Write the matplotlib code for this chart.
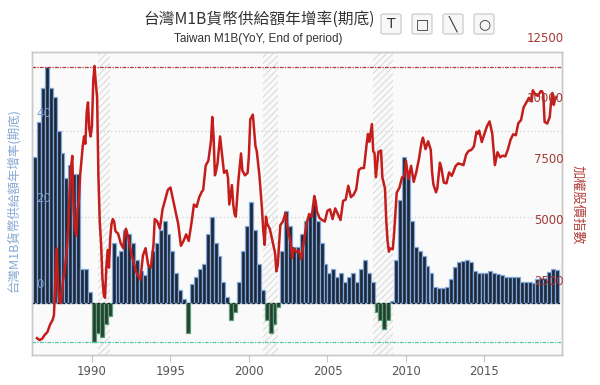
import numpy as np
import pandas as pd
import matplotlib
matplotlib.use("Agg")
import matplotlib.pyplot as plt
from matplotlib.patches import FancyBboxPatch
import matplotlib.transforms as mtransforms

plt.rcParams['font.family'] = ['Noto Sans CJK TC', 'DejaVu Sans']
plt.rcParams['hatch.linewidth'] = 0.8

# M1B YoY (%), quarterly, starting 1986Q2
m1b_yoy = [
    34, 42, 50,                 # 1986
    55, 50, 48, 40,             # 1987
    35, 29, 32, 30,             # 1988
    30, 8, 8, 2.5,              # 1989
    -9, -7, -8, -5,             # 1990
    -3, 14, 11, 12,             # 1991
    17, 16, 14, 10,             # 1992
    7.5, 6.5, 8.5, 12,          # 1993
    14, 17, 19, 16,             # 1994
    12, 7, 3, 1,                # 1995
    -7, 4.5, 6, 8,              # 1996
    9, 16, 20, 14,              # 1997
    11, 5, 1.5, -4,             # 1998
    -2, 5, 12, 18,              # 1999
    23.5, 17, 9, 3,             # 2000
    -4, -7, -5, -1,             # 2001
    12, 21.5, 18, 13,           # 2002
    13, 16, 19, 21,             # 2003
    23, 19, 14, 9,              # 2004
    7, 8, 6, 7,                 # 2005
    5, 6, 7, 5,                 # 2006
    8, 10, 7, 5,                # 2007
    -2, -4, -6, -4,             # 2008
    0.5, 10, 24, 34,            # 2009
    30, 19, 13, 12,             # 2010
    11, 8.5, 7, 3.7,            # 2011
    3.6, 3.6, 3.7, 5.5,         # 2012
    8.4, 9.5, 9.7, 10,          # 2013
    9.5, 7.5, 7, 7,             # 2014
    7, 7.5, 7, 6.8,             # 2015
    6.5, 6, 6, 6,               # 2016
    6, 5, 5, 5,                 # 2017
    4.7, 5.5, 5.8, 5.8,         # 2018
    7.3, 7.8, 7.6,              # 2019
]
m1b_dates = pd.period_range('1986Q2', periods=len(m1b_yoy), freq='Q')

# TAIEX month-end close
taiex_months = [
    '1986-06', '1986-08', '1986-10', '1986-12',
    '1987-02', '1987-04', '1987-06', '1987-07', '1987-08', '1987-09', '1987-10', '1987-11', '1987-12',
    '1988-01', '1988-02', '1988-03', '1988-04', '1988-05', '1988-06', '1988-07', '1988-08', '1988-09',
    '1988-10', '1988-11', '1988-12',
    '1989-01', '1989-02', '1989-03', '1989-04', '1989-05', '1989-06', '1989-07', '1989-08', '1989-09',
    '1989-10', '1989-11', '1989-12',
    '1990-01', '1990-02', '1990-03', '1990-04', '1990-05', '1990-06', '1990-07', '1990-08', '1990-09',
    '1990-10', '1990-11', '1990-12',
    '1991-01', '1991-02', '1991-03', '1991-04', '1991-05', '1991-06', '1991-08', '1991-10', '1991-12',
    '1992-01', '1992-02', '1992-04', '1992-06', '1992-08', '1992-10', '1992-12',
    '1993-01', '1993-03', '1993-05', '1993-07', '1993-09', '1993-11', '1993-12',
    '1994-02', '1994-04', '1994-06', '1994-08', '1994-10', '1994-12',
    '1995-02', '1995-04', '1995-06', '1995-08', '1995-10', '1995-12',
    '1996-02', '1996-04', '1996-06', '1996-08', '1996-10', '1996-12',
    '1997-01', '1997-03', '1997-05', '1997-07', '1997-08', '1997-09', '1997-10', '1997-11', '1997-12',
    '1998-02', '1998-03', '1998-05', '1998-07', '1998-08', '1998-09', '1998-11', '1998-12',
    '1999-01', '1999-02', '1999-04', '1999-06', '1999-07', '1999-09', '1999-11', '1999-12',
    '2000-01', '2000-03', '2000-05', '2000-06', '2000-08', '2000-10', '2000-11', '2000-12',
    '2001-01', '2001-02', '2001-04', '2001-06', '2001-08', '2001-09', '2001-10', '2001-12',
    '2002-02', '2002-04', '2002-06', '2002-08', '2002-09', '2002-10', '2002-12',
    '2003-02', '2003-04', '2003-06', '2003-08', '2003-10', '2003-12',
    '2004-02', '2004-03', '2004-04', '2004-06', '2004-08', '2004-10', '2004-12',
    '2005-02', '2005-04', '2005-06', '2005-08', '2005-10', '2005-12',
    '2006-02', '2006-04', '2006-06', '2006-08', '2006-10', '2006-12',
    '2007-02', '2007-04', '2007-06', '2007-07', '2007-08', '2007-10', '2007-11', '2007-12',
    '2008-01', '2008-03', '2008-05', '2008-06', '2008-08', '2008-09', '2008-10', '2008-11', '2008-12',
    '2009-02', '2009-03', '2009-05', '2009-07', '2009-09', '2009-11', '2009-12',
    '2010-02', '2010-04', '2010-06', '2010-08', '2010-10', '2010-12',
    '2011-01', '2011-03', '2011-05', '2011-07', '2011-08', '2011-09', '2011-11', '2011-12',
    '2012-02', '2012-03', '2012-05', '2012-07', '2012-09', '2012-11', '2012-12',
    '2013-02', '2013-04', '2013-06', '2013-08', '2013-10', '2013-12',
    '2014-02', '2014-04', '2014-06', '2014-07', '2014-08', '2014-10', '2014-12',
    '2015-02', '2015-04', '2015-06', '2015-08', '2015-10', '2015-12',
    '2016-02', '2016-04', '2016-06', '2016-08', '2016-10', '2016-12',
    '2017-02', '2017-04', '2017-06', '2017-08', '2017-10', '2017-12',
    '2018-01', '2018-03', '2018-05', '2018-07', '2018-08', '2018-09', '2018-10', '2018-12',
    '2019-02', '2019-03', '2019-04', '2019-05', '2019-06', '2019-07',
]
taiex_close = [
    900, 820, 880, 1040,
    1150, 1450, 1650, 1850, 3300, 4600, 3100, 2400, 2340,
    2800, 3300, 3600, 4100, 4700, 5500, 7000, 7900, 8400,
    6200, 5400, 5120,
    6200, 6500, 7600, 8200, 8800, 9200, 8900, 10200, 10600,
    9500, 9200, 9624,
    11500, 12100, 11400, 10800, 7500, 5700, 4800, 3400, 2700,
    2560, 3800, 4530,
    3800, 5000, 5600, 5800, 5700, 5300, 5200, 4800, 4600,
    5200, 5400, 5000, 4400, 4000, 3600, 3400,
    3300, 4300, 4600, 3900, 3800, 4700, 5800,
    5700, 5400, 6200, 6600, 7000, 7100,
    6600, 6100, 5600, 4700, 4900, 5170,
    4900, 5600, 6400, 6300, 6700, 6930,
    7000, 8000, 8200, 9000, 10000, 9200, 7600, 7800, 8100,
    9200, 8700, 7700, 7800, 7500, 6400, 7200, 6400,
    6000, 5900, 7400, 8500, 7800, 7600, 7700, 8450,
    9900, 10100, 8800, 8600, 7600, 6200, 5300, 4740,
    5900, 5600, 5400, 4900, 4400, 3650, 3900, 5550,
    5700, 6050, 5300, 4800, 4200, 4600, 4450,
    4500, 4150, 4870, 5600, 6000, 5890,
    6750, 6520, 6117, 5840, 5760, 5700, 6140,
    6200, 5800, 6240, 6000, 5760, 6550,
    6600, 7170, 6700, 6800, 7020, 7820,
    7900, 7900, 8880, 9300, 8980, 9710, 8590, 8510,
    7520, 8570, 8620, 7520, 7050, 5720, 4870, 4460, 4590,
    4560, 5210, 6890, 7080, 7510, 7580, 8190,
    7440, 7990, 7330, 7750, 8290, 8970,
    9150, 8680, 9000, 8650, 7740, 7230, 6900, 7070,
    8120, 7930, 7300, 7270, 7720, 7580, 7700,
    7980, 8090, 8060, 8020, 8450, 8610,
    8640, 8790, 9390, 9320, 9440, 8970, 9310,
    9620, 9820, 9320, 8020, 8550, 8340,
    8410, 8380, 8670, 9070, 9290, 9250,
    9750, 9870, 10400, 10590, 10790, 10640,
    11100, 10920, 10870, 11060, 11060, 10940, 9800, 9730,
    10000, 10640, 10990, 10500, 10730, 10820,
]

# shaded (hatched) periods
shade_start = [1990.4, 2000.9, 2007.9]
shade_end = [1991.15, 2001.85, 2009.15]

title = '台灣M1B貨幣供給額年增率(期底)'
subtitle = 'Taiwan M1B(YoY, End of period)'
left_label = '台灣M1B貨幣供給額年增率(期底)'
right_label = '加權股價指數'
left_ticks = [0, 20, 40]
right_ticks = [2500, 5000, 7500, 10000, 12500]
x_ticks = [1990, 1995, 2000, 2005, 2010, 2015]


def to_year(ts):
    return ts.year + (ts.dayofyear - 0.5) / (366 if ts.is_leap_year else 365)


bar_x = np.array([p.year + (p.quarter - 0.5) / 4 for p in m1b_dates])
bar_y = np.array(m1b_yoy, dtype=float)
line_idx = pd.to_datetime(taiex_months, format='%Y-%m') + pd.offsets.MonthEnd(0)
line_x = np.array([to_year(t) for t in line_idx])
line_y = np.array(taiex_close, dtype=float)

fig = plt.figure(figsize=(6.0, 3.85), dpi=100)
ax = fig.add_axes([32 / 600, 1 - 355 / 385, 530 / 600, 303 / 385])
ax.set_facecolor('#fafafa')
ax2 = ax.twinx()

ax.set_xlim(1986.18, 2019.94)
ax.set_ylim(-12.1, 58.4)
ax2.set_ylim(206, 12675)

for s, e in zip(shade_start, shade_end):
    ax.axvspan(s, e, facecolor='none', edgecolor='#dcdcdc', hatch='/////', lw=0, zorder=0.5)

for v in [20, 40]:
    ax.axhline(v, color='#cfcfcf', lw=0.9, ls=(0, (1, 2)), zorder=0.6)

pos = bar_y >= 0
ax.bar(bar_x[pos], bar_y[pos], width=0.25, color='#1e2738', edgecolor='#7ea7dc', lw=0.9, zorder=2)
ax.bar(bar_x[~pos], bar_y[~pos], width=0.25, color='#22402e', edgecolor='#5e9f77', lw=0.9, zorder=2)

ax.axhline(0, color='#222222', lw=0.9, ls=(0, (2, 2)), zorder=3)
ax.axhline(bar_y.max(), color='#b23a3a', lw=0.9, ls=(0, (3, 1, 1, 1)), zorder=3)
ax.axhline(bar_y.min(), color='#52c7a8', lw=0.9, ls=(0, (3, 1, 1, 1)), zorder=3)

ax2.plot(line_x, line_y, color='#c41d1b', lw=1.8, zorder=4)

# axes styling
for a in (ax, ax2):
    for sp in a.spines.values():
        sp.set_color('#c8c8c8')
        sp.set_linewidth(1.0)
ax.set_xticks(x_ticks)
ax.set_xticklabels([str(t) for t in x_ticks], fontsize=8.5, color='#555555', family='DejaVu Sans')
ax.tick_params(axis='x', length=5, color='#c8c8c8', pad=2)
ax.set_yticks([])
ax2.set_yticks([])

# y tick labels drawn inside the plot, a bit above their values
off = mtransforms.offset_copy(ax.get_yaxis_transform(), fig=fig, x=0, y=13, units='points')
for v in left_ticks:
    ax.text(0.008, v, str(v), transform=off, ha='left', va='center', fontsize=8.5,
            color='#7b9cc9', family='DejaVu Sans', zorder=6)
off2 = mtransforms.offset_copy(ax2.get_yaxis_transform(), fig=fig, x=1, y=13, units='points')
for v in right_ticks:
    ax2.text(1.0, v, str(v), transform=off2, ha='right', va='center', fontsize=8.5,
             color='#a33a36', family='DejaVu Sans', zorder=6, clip_on=False)

fig.text(13 / 600, 1 - 200 / 385, left_label, rotation=90, ha='center', va='center',
         fontsize=9, color='#86a8d4')
fig.text(577 / 600, 1 - 205 / 385, right_label, rotation=270, ha='center', va='center',
         fontsize=9.5, color='#b0423d')

fig.text(259 / 600, 1 - 19 / 385, title, ha='center', va='center', fontsize=11.3, color='#333333')
fig.text(258 / 600, 1 - 39 / 385, subtitle, ha='center', va='center', fontsize=8.5, color='#333333',
         family=['Liberation Sans', 'DejaVu Sans'])

# toolbar buttons
for cx, glyph in zip([391, 422, 453, 484], ['T', '□', '╲', '○']):
    box = FancyBboxPatch(((cx - 10) / 600, 1 - 34 / 385), 20 / 600, 20 / 385,
                         boxstyle='round,pad=0,rounding_size=0.004', transform=fig.transFigure,
                         facecolor='#f7f7f7', edgecolor='#c6c6c6', lw=0.8)
    fig.patches.append(box)
    fig.text(cx / 600, 1 - 24 / 385, glyph, ha='center', va='center', fontsize=10,
             color='#333333', family='DejaVu Sans')

fig.savefig('out.png', dpi=100, facecolor='white')
